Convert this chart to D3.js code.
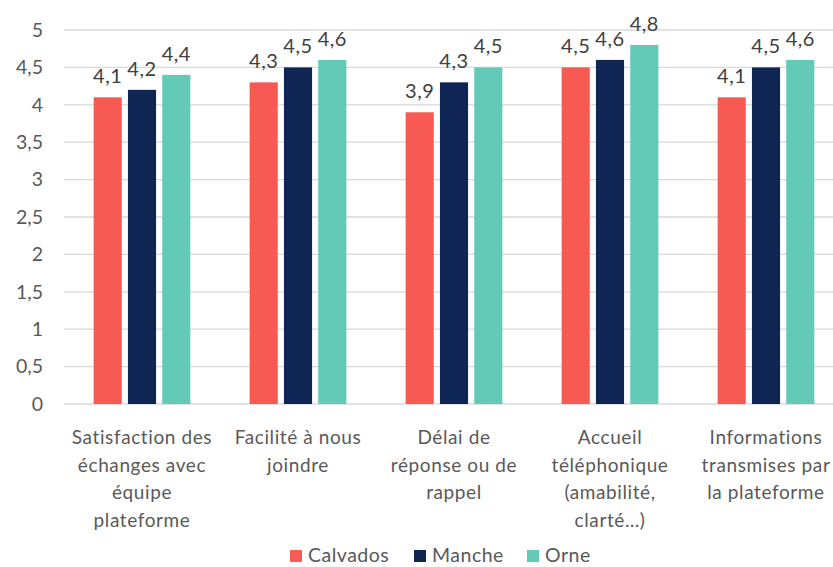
<!DOCTYPE html>
<html>
<head>
<meta charset="utf-8">
<script src="https://cdn.jsdelivr.net/npm/d3@7"></script>
<style>
  body { margin: 0; background: #fff; }
  svg { display: block; font-family: "Lato", "Open Sans", sans-serif; }
</style>
</head>
<body>
<div class="bar-chart"></div>
<script>
// chart data
var categories = [
  ["Satisfaction des", "échanges avec", "équipe", "plateforme"],
  ["Facilité à nous", "joindre"],
  ["Délai de", "réponse ou de", "rappel"],
  ["Accueil", "téléphonique", "(amabilité,", "clarté…)"],
  ["Informations", "transmises par", "la plateforme"]
];
var seriesNames = ["Calvados", "Manche", "Orne"];
var calvados = [4.1, 4.3, 3.9, 4.5, 4.1];
var manche = [4.2, 4.5, 4.3, 4.6, 4.5];
var orne = [4.4, 4.6, 4.5, 4.8, 4.6];
var yTicks = [0, 0.5, 1, 1.5, 2, 2.5, 3, 3.5, 4, 4.5, 5];

var colors = ["#F65A53", "#0F2553", "#63CAB8"];
var series = [calvados, manche, orne];

var W = 833, H = 567;
var plot = { left: 64, right: 844, top: 30, bottom: 404 };

var svg = d3.select(".bar-chart").append("svg")
    .attr("width", W)
    .attr("height", H);

var x0 = d3.scaleBand()
    .domain(d3.range(categories.length))
    .range([plot.left, plot.right])
    .paddingInner(0.38)
    .paddingOuter(0.19);

var x1 = d3.scaleBand()
    .domain(d3.range(seriesNames.length))
    .range([0, x0.bandwidth()])
    .paddingInner(0.18)
    .paddingOuter(0);

var y = d3.scaleLinear()
    .domain([0, 5])
    .range([plot.bottom, plot.top]);

// gridlines
svg.append("g")
    .selectAll("line")
    .data(yTicks)
    .enter().append("line")
    .attr("x1", plot.left)
    .attr("x2", plot.right)
    .attr("y1", function (d) { return y(d); })
    .attr("y2", function (d) { return y(d); })
    .attr("stroke", "#d9d9d9")
    .attr("stroke-width", 1.3);

// y axis
var yAxis = d3.axisLeft(y)
    .tickValues(yTicks)
    .tickSize(0)
    .tickPadding(0)
    .tickFormat(function (d) { return String(d).replace(".", ","); });

var gy = svg.append("g")
    .attr("transform", "translate(43,0)")
    .call(yAxis);
gy.select(".domain").remove();
gy.selectAll("text")
    .attr("fill", "#595959")
    .attr("font-size", "19.5px")
    .attr("font-family", "Lato, sans-serif");

// bars
var groups = svg.append("g")
    .selectAll("g")
    .data(categories)
    .enter().append("g")
    .attr("transform", function (d, i) { return "translate(" + x0(i) + ",0)"; });

function cells(d, i) {
  return series.map(function (s, j) { return { s: j, v: s[i] }; });
}

groups.selectAll("rect")
    .data(cells)
    .enter().append("rect")
    .attr("x", function (d) { return x1(d.s); })
    .attr("width", x1.bandwidth())
    .attr("y", function (d) { return y(d.v); })
    .attr("height", function (d) { return y(0) - y(d.v); })
    .attr("fill", function (d) { return colors[d.s]; });

groups.selectAll("text.val")
    .data(cells)
    .enter().append("text")
    .attr("class", "val")
    .attr("x", function (d) { return x1(d.s) + x1.bandwidth() / 2; })
    .attr("y", function (d) { return y(d.v) - 14; })
    .attr("text-anchor", "middle")
    .attr("fill", "#404040")
    .attr("font-size", "20px")
    .attr("letter-spacing", "0.5px")
    .text(function (d) { return String(d.v).replace(".", ","); });

// category labels
groups.append("text")
    .attr("text-anchor", "middle")
    .attr("fill", "#595959")
    .attr("font-size", "19px")
    .attr("letter-spacing", "0.6px")
    .each(function (d) {
      var t = d3.select(this);
      d.forEach(function (line, k) {
        t.append("tspan")
          .attr("x", x0.bandwidth() / 2)
          .attr("y", 444 + k * 27.5)
          .text(line);
      });
    });

// legend
var legendX = [290, 414, 527];
var legend = svg.append("g")
    .selectAll("g")
    .data(seriesNames)
    .enter().append("g")
    .attr("transform", function (d, i) { return "translate(" + legendX[i] + ",550)"; });

legend.append("rect")
    .attr("width", 12)
    .attr("height", 12)
    .attr("fill", function (d, i) { return colors[i]; });

legend.append("text")
    .attr("x", 18)
    .attr("y", 12)
    .attr("fill", "#595959")
    .attr("font-size", "19.5px")
    .attr("letter-spacing", "0.5px")
    .text(function (d) { return d; });
</script>
</body>
</html>
